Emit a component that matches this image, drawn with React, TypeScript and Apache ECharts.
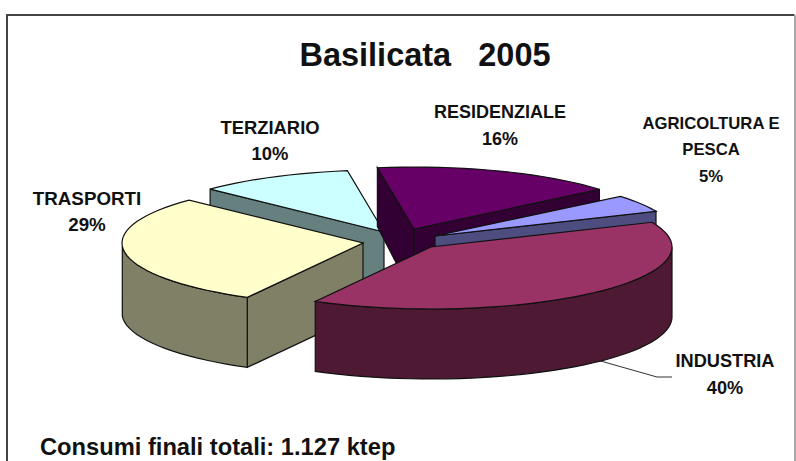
import React, { useEffect, useRef } from "react";
import * as echarts from "echarts";

const categories = ["INDUSTRIA", "TRASPORTI", "TERZIARIO", "RESIDENZIALE", "AGRICOLTURA E PESCA"];
const shares = [39.5, 29.2, 10.4, 16.4, 4.5];
const percentLabels = ["40%", "29%", "10%", "16%", "5%"];
const titleText = "Basilicata   2005";
const footerText = "Consumi finali totali: 1.127 ktep";

const topColors = ["#993366", "#FFFFCC", "#CCFFFF", "#660066", "#9999FF"];
const sideColors = ["#4D1933", "#808066", "#668080", "#330033", "#4D4D80"];
// slices exploded away from the pie centre, painted back to front
const paintOrder = [2, 3, 4, 1, 0];
const explode = [[36, 13], [-32, 9], [-11, -2], [19, -5], [40, 2]];
const labelLines = [
  ["INDUSTRIA"], ["TRASPORTI"], ["TERZIARIO"], ["RESIDENZIALE"], ["AGRICOLTURA E", "PESCA"],
];
const labelAnchors = [[725, 361], [87, 198], [270, 127], [500, 112], [711, 123]];
const labelSizes = [18.2, 18.8, 18.4, 18, 16.7];

const CX = 395, CY = 234, RX = 241, RY = 62, START = -23.5, LINE_H = 26.5;
const total = shares.reduce((a, b) => a + b, 0);
const rad = (d: number) => (d * Math.PI) / 180;

function depthAt(y: number) {
  return y >= 240 ? 70 : 59 + ((y - 168) / 72) * 11;
}

function sliceAngles(i: number) {
  let a = START;
  for (let k = 0; k < i; k++) a += (shares[k] / total) * 360;
  return [a, a + (shares[i] / total) * 360];
}

function renderSlice(params: any) {
  const i = paintOrder[params.dataIndex];
  const [a0, a1] = sliceAngles(i);
  const ax = CX + explode[i][0], ay = CY + explode[i][1];
  const pt = (a: number) => [ax + RX * Math.cos(rad(a)), ay + RY * Math.sin(rad(a))];
  const down = (p: number[]) => [p[0], p[1] + depthAt(p[1])];
  const steps = Math.max(2, Math.ceil((a1 - a0) / 3));
  const arc: number[][] = [];
  const arcAngles: number[] = [];
  for (let s = 0; s <= steps; s++) {
    const a = a0 + ((a1 - a0) * s) / steps;
    arc.push(pt(a));
    arcAngles.push(a);
  }
  const edge = { stroke: "#111", lineWidth: 1.2 };
  const side = { fill: sideColors[i], ...edge };
  const children: any[] = [];
  const apex = [ax, ay];
  if (Math.cos(rad(a0)) < 0) {
    const p = pt(a0);
    children.push({ type: "polygon", shape: { points: [apex, p, down(p), down(apex)] }, style: side });
  }
  if (Math.cos(rad(a1)) > 0) {
    const p = pt(a1);
    children.push({ type: "polygon", shape: { points: [apex, p, down(p), down(apex)] }, style: side });
  }
  const front = arc.filter((_, k) => Math.sin(rad(arcAngles[k])) >= 0);
  if (front.length > 1) {
    children.push({
      type: "polygon",
      shape: { points: [...front, ...front.slice().reverse().map(down)] },
      style: side,
    });
  }
  children.push({
    type: "polygon",
    shape: { points: [apex, ...arc] },
    style: { fill: topColors[i], ...edge },
  });
  return { type: "group", children };
}

const textStyle = (size: number) => ({
  fill: "#111",
  fontFamily: "Liberation Sans",
  fontWeight: "bold",
  fontSize: size,
});

function labelElements() {
  const out: any[] = [];
  categories.forEach((_, i) => {
    const lines = [...labelLines[i], percentLabels[i]];
    lines.forEach((t, k) => {
      out.push({
        type: "text",
        x: labelAnchors[i][0],
        y: labelAnchors[i][1] + k * LINE_H,
        style: { text: t, ...textStyle(labelSizes[i]), align: "center", verticalAlign: "middle" },
      });
    });
  });
  return out;
}

export default function App() {
  const ref = useRef<HTMLDivElement>(null);
  useEffect(() => {
    document.body.style.margin = "0";
    const chart = echarts.init(ref.current!, undefined, { renderer: "svg" });
    chart.setOption({
      animation: false,
      backgroundColor: "#fff",
      series: [
        {
          type: "custom",
          coordinateSystem: "none",
          silent: true,
          renderItem: renderSlice,
          data: paintOrder.map((i) => [shares[i]]),
          z: 2,
        },
      ],
      graphic: [
        {
          type: "polyline",
          shape: { points: [[7, 461], [7, 15], [794.5, 15]] },
          style: { stroke: "#444", lineWidth: 2, fill: "none" },
          z: 1,
        },
        {
          type: "line",
          shape: { x1: 795, y1: 15, x2: 795, y2: 461 },
          style: { stroke: "#aaa", lineWidth: 2 },
          z: 1,
        },
        {
          type: "polyline",
          shape: { points: [[597, 360], [657, 377], [672, 377]] },
          style: { stroke: "#333", lineWidth: 1, fill: "none" },
          z: 1,
        },
        {
          type: "text",
          x: 425,
          y: 55,
          style: { text: titleText, ...textStyle(32.5), align: "center", verticalAlign: "middle" },
          z: 5,
        },
        {
          type: "text",
          x: 40,
          y: 447,
          style: { text: footerText, ...textStyle(23.7), align: "left", verticalAlign: "middle" },
          z: 5,
        },
        ...labelElements().map((e) => ({ ...e, z: 5 })),
      ],
    });
    return () => chart.dispose();
  }, []);
  return <div ref={ref} style={{ width: 796, height: 461 }} />;
}
